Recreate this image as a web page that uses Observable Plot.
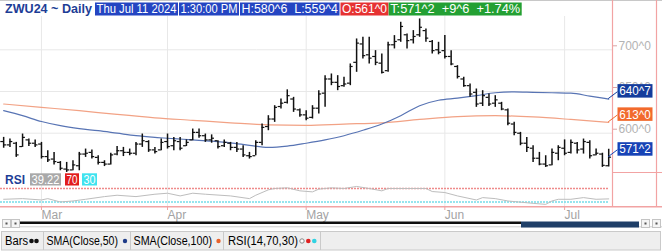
<!DOCTYPE html>
<html>
<head>
<meta charset="utf-8">
<script src="https://cdn.jsdelivr.net/npm/d3@7"></script>
<script src="https://cdn.jsdelivr.net/npm/@observablehq/plot@0.6"></script>
<style>
  html,body{margin:0;padding:0;background:#fff;}
  #wrap{position:relative;width:662px;height:251px;overflow:hidden;background:#fff;font-family:"Liberation Sans",Arial,sans-serif;}
  #wrap > svg{position:absolute;left:0;}
</style>
</head>
<body>
<div id="wrap"></div>
<script>
// ---------------- data ----------------
const symbol = "ZWU24 ~ Daily";
const dateText = "Thu Jul 11 2024";
const timeText = "1:30:00 PM";
const firstBarIndex = -6;           // bar index relative to Mar 1 2024 (= 0)
const opens = [590,586,588,584,592,588,587,572,569,565,
  557,556,561,575,577,571,565,563,575,579,
  577,576,587,590,580,580,590,585,590,585,
  592,601,597,592,591,585,588,583,581,573,
  573,589,608,617,632,637,641,628,622,619,
  630,648,665,661,657,660,685,707,694,692,
  684,675,706,712,718,712,718,723,710,700,
  699,692,680,665,657,649,636,643,636,636,
  628,611,600,588,582,570,563,562,576,582,
  577,588,581,589,574,575,561];
const highs = [595,593,589,599,593,592,589,579,577,566,
  565,567,577,581,580,573,567,576,584,583,
  581,589,599,591,583,593,599,595,595,592,
  605,605,599,598,591,592,589,589,585,577,
  591,611,621,633,641,652,643,629,627,633,
  651,669,671,669,667,683,713,715,715,699,
  695,709,717,733,719,723,737,725,711,709,
  717,699,681,667,659,653,651,647,645,637,
  629,613,601,595,585,577,573,581,585,592,
  592,589,593,591,581,576,580.75];
const lows = [582,583,571,583,584,583,569,565,562,555,
  553,555,555,571,569,562,560,562,573,572,
  573,573,583,577,575,579,581,579,579,584,
  591,594,589,588,581,583,579,577,571,569,
  573,585,603,613,629,635,625,619,615,617,
  623,631,657,651,655,657,673,689,683,681,
  671,673,701,709,701,707,715,709,695,694,
  689,681,665,655,643,631,632,632,631,627,
  609,597,585,577,565,561,559,561,567,573,
  575,575,575,569,573,559,559.5];
const closes = [586,590,574,595,588,586,572,568,566,558,
  556,562,575,576,572,565,563,574,579,577,
  576,587,591,580,578,589,584,591,582,589,
  601,597,592,594,584,589,583,581,574,572,
  589,607,617,631,636,645,629,622,618,630,
  647,665,661,656,659,680,708,693,690,685,
  673,706,710,728,711,716,727,714,699,697,
  692,683,668,657,647,635,645,635,640,629,
  612,601,588,583,570,563,561,577,583,576,
  589,580,590,573,576,561.5,571.25];

const sma50Idx = [-6,-3,0,3,6,9,12,15,18,21,24,27,30,33,36,39,42,45,48,51,54,57,60,63,66,69,72,75,78,81,84,87,90];
const sma50Val = [627,621,614,609,605.5,603,600,597,595,593.5,592,590.5,588.5,585.5,583,584.5,588,592,597,603.5,611,621,633,639.5,642,645,648.5,649.5,649,648.5,648,644.5,640.875];
const sma100Idx = [-6,0,6,12,18,24,30,36,42,48,54,60,66,72,78,84,90];
const sma100Val = [635,631,627,622.5,618.5,615.5,612.5,610,609.5,611,612.5,616.5,620,621,619.5,616.5,613];

const rsiIdx = [-6,-3,0,1,3,5,7,10,12,15,18,20,22,24,26,30,33,34,36,37,39,41,43,44,46,48,50,52,54,55,58,61,62,64,66,69,70,72,74,78,80,81,82,84,86,88,90];
const rsiVal = [38,40,36,40,30,33,38,46,50,46,53,56,48,56,53,48,40,50,66,70,72,63,60,68,72,70,76,70,63,70,70,70,61,58,48,36,43,40,33,26,23,33,38,38,43,38,39.22];
const rsiLevels = [70, 30];

const monthTickIdx = [0,20,42,64,83];
const monthLabels = ["Mar","Apr","May","Jun","Jul"];
const priceTicks = [600,650,700];

// ---------------- helpers ----------------
const fmt8 = v => { const f = Math.floor(v); return f + "^" + Math.round((v - f) * 8); };
const bars = opens.map((o,k)=>({i:firstBarIndex+k,o,h:highs[k],l:lows[k],c:closes[k]}));
const sma50 = sma50Idx.map((i,k)=>({i,v:sma50Val[k]}));
const sma100 = sma100Idx.map((i,k)=>({i,v:sma100Val[k]}));
const rsi = rsiIdx.map((i,k)=>({i,v:rsiVal[k]}));
const lastIdx = bars[bars.length-1].i;
const xDomain = [firstBarIndex-0.5, lastIdx+0.6];
const font = "Liberation Sans, Arial, sans-serif";
const ink = "#111";

// ---------------- price pane ----------------
const price = Plot.plot({
  width:662, height:172, marginTop:0, marginRight:50, marginBottom:0, marginLeft:0,
  style:{background:"transparent", fontFamily:font, overflow:"visible"},
  x:{domain:xDomain, axis:null},
  y:{domain:[552.9,759.1], axis:null},
  marks:[
    Plot.ruleX(monthTickIdx,{stroke:"#e8e8e8", insetTop:16}),
    Plot.ruleY(priceTicks,{stroke:"#e8e8e8"}),
    Plot.line(sma100,{x:"i",y:"v",stroke:"#f2a285",strokeWidth:1.2,curve:"monotone-x"}),
    Plot.line(sma50,{x:"i",y:"v",stroke:"#5874b4",strokeWidth:1.2,curve:"monotone-x"}),
    Plot.ruleX(bars,{x:"i",y1:"l",y2:"h",stroke:ink,strokeWidth:1.5}),
    Plot.ruleY(bars,{y:"o",x1:d=>d.i-0.45,x2:"i",stroke:ink,strokeWidth:1.2}),
    Plot.ruleY(bars,{y:"c",x1:"i",x2:d=>d.i+0.45,stroke:ink,strokeWidth:1.2}),
    Plot.axisY(priceTicks,{anchor:"right",label:null,tickSize:4,tickPadding:2,textAnchor:"start",dy:-4,
      fontSize:12,fill:"#b3b3b3",stroke:"#d9a5a5",tickFormat:fmt8})
  ]
});
price.style.top = "0px";

// ---------------- RSI pane ----------------
const rsiChart = Plot.plot({
  width:662, height:50, marginTop:6, marginRight:50, marginBottom:15, marginLeft:0,
  style:{background:"transparent", fontFamily:font, overflow:"visible"},
  x:{domain:xDomain, axis:null},
  y:{domain:[13.7,99.6], axis:null},
  marks:[
    Plot.ruleX(monthTickIdx,{stroke:"#e8e8e8", insetTop:-6}),
    Plot.ruleY(rsiLevels,{x1:xDomain[0],x2:lastIdx,stroke:(d)=>d,strokeWidth:1.3,strokeDasharray:"2,1"}),
    Plot.line(rsi,{x:"i",y:"v",stroke:"#bdbdbd",strokeWidth:1}),
    Plot.axisX(monthTickIdx,{anchor:"bottom",label:null,tickSize:3,tickPadding:0,textAnchor:"start",
      fontSize:12,fill:"#a3a3a3",stroke:"#f0a0a0",tickFormat:d=>monthLabels[monthTickIdx.indexOf(d)]})
  ],
  color:{domain:rsiLevels, range:["#ef8b8b","#74dde9"]}
});
rsiChart.style.top = "172px";

const wrap = document.getElementById("wrap");
wrap.appendChild(price);
wrap.appendChild(rsiChart);

// ---------------- overlay (header, tags, frame, scrollbar, legend) ----------------
const ov = d3.select(wrap).append("svg").attr("width",662).attr("height",251)
  .style("top","0px").style("font-family",font);

function txt(x,y,s,opt={}){
  const t = ov.append("text").attr("x",x).attr("y",y).text(s)
    .attr("font-size",opt.size||12).attr("fill",opt.fill||"#000")
    .attr("font-weight",opt.bold?"bold":"normal").style("white-space","pre");
  if (opt.len) t.attr("textLength",opt.len).attr("lengthAdjust","spacingAndGlyphs");
  return t;
}
function line(x1,y1,x2,y2,stroke,w=1){
  ov.append("line").attr("x1",x1).attr("y1",y1).attr("x2",x2).attr("y2",y2).attr("stroke",stroke).attr("stroke-width",w);
}

// frame
line(0,0.5,662,0.5,"#c8c8c8");
const frame = "#f2a3a3";
line(612.5,0,612.5,207,frame,1.2);
line(656.5,0,656.5,207,frame,1.2);
line(612,172.5,662,172.5,frame,1.2);
line(0,206.8,662,206.8,frame,1.6);

// header
const H = highs.at(-1), L = lows.at(-1), O = opens.at(-1), C = closes.at(-1), P = closes.at(-2);
const chg = C - P, pct = chg / P * 100;
txt(5,13.3,symbol,{bold:true,size:12.5,fill:"#1d3d96",len:87});
const headerBoxes = [
  {x:95,w:83,s:dateText,fill:"#2445c2"},
  {x:179,w:60,s:timeText,fill:"#2445c2"},
  {x:240,w:99.5,s:`H:${fmt8(H)}  L:${fmt8(L)}`,fill:"#2445c2"},
  {x:340.5,w:48,s:`O:${fmt8(O)}`,fill:"#e63232"},
  {x:388.7,w:133,s:`T:${fmt8(C)}  +${fmt8(chg)}  +${pct.toFixed(2)}%`,fill:"#23a033"}
];
for (const b of headerBoxes){
  ov.append("rect").attr("x",b.x).attr("y",2.5).attr("width",b.w).attr("height",13).attr("fill",b.fill);
  txt(b.x+1.5,13.3,b.s,{fill:"#fff",size:12,len:b.w-3});
}

// last value tags
const xs = price.scale("x"), ys = price.scale("y");
const tagX = xs.range[1] + 5.5, endX = xs.apply(lastIdx);
const tags = [
  {v:sma50Val.at(-1), fill:"#143c9c"},
  {v:sma100Val.at(-1), fill:"#f26a2c"},
  {v:C, fill:"#1743b6"}
];
for (const t of tags){
  const y = ys.apply(t.v);
  line(endX,y,tagX,y-7,t.fill,1);
  ov.append("rect").attr("x",tagX).attr("y",y-14.5).attr("width",35).attr("height",13.5).attr("fill",t.fill);
  txt(tagX+1.8,y-3.2,fmt8(t.v),{fill:"#fff",size:12,len:31.5});
}

// RSI header row
txt(5,184.3,"RSI",{bold:true,size:12,fill:"#1d3d96",len:20});
const rsiBoxes = [
  {x:30,w:31,s:rsiVal.at(-1).toFixed(2),fill:"#a9a9a9"},
  {x:65,w:14,s:String(rsiLevels[0]),fill:"#e21d1d"},
  {x:82,w:15,s:String(rsiLevels[1]),fill:"#3fe3ef"}
];
for (const b of rsiBoxes){
  ov.append("rect").attr("x",b.x).attr("y",173.3).attr("width",b.w).attr("height",12.2).attr("fill",b.fill);
  txt(b.x+1.5,183.8,b.s,{fill:"#fff",size:12,len:b.w-3});
}

// scrollbar
function btn(x){
  ov.append("rect").attr("x",x+0.5).attr("y",219.5).attr("width",8).attr("height",8).attr("fill","#f5f5f5").attr("stroke","#c4c4c4");
  ov.append("rect").attr("x",x+3.5).attr("y",222.5).attr("width",2).attr("height",2).attr("fill","#555");
}
btn(2); btn(11);
line(20,222.8,521,222.8,"#111",2.4);
line(20,226.8,662,226.8,"#cfcfcf",1);
ov.append("rect").attr("x",521).attr("y",221.5).attr("width",118).attr("height",6).attr("fill","#1f3f68");
btn(641); btn(652);

// legend
ov.append("rect").attr("x",1.5).attr("y",231.5).attr("width",659).attr("height",18.5).attr("fill","#eeeeee").attr("stroke","#cacaca");
for (const sx of [43.5,130.5,223.5,320.5]) line(sx,232,sx,250,"#cacaca");
txt(5,245,"Bars",{len:23});
ov.append("circle").attr("cx",31.5).attr("cy",241).attr("r",2.3).attr("fill","#111");
ov.append("circle").attr("cx",36.5).attr("cy",241).attr("r",2.3).attr("fill","#111");
txt(46.5,245,"SMA(Close,50)",{len:71.5});
ov.append("circle").attr("cx",125).attr("cy",241).attr("r",2.2).attr("fill","#1f3c88");
txt(133.5,245,"SMA(Close,100)",{len:78.5});
ov.append("circle").attr("cx",218.5).attr("cy",241).attr("r",2.2).attr("fill","#e8622c");
txt(228,245,"RSI(14,70,30)",{len:70});
ov.append("circle").attr("cx",302).attr("cy",241).attr("r",2.2).attr("fill","#fff").attr("stroke","#888");
ov.append("circle").attr("cx",308.3).attr("cy",241).attr("r",2.3).attr("fill","#e02020");
ov.append("circle").attr("cx",314.3).attr("cy",241).attr("r",2.3).attr("fill","#30d2e2");
</script>
</body>
</html>
